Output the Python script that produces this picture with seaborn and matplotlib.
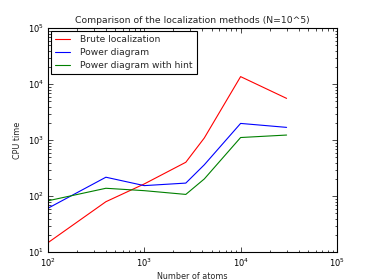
import pandas as pd
import matplotlib
matplotlib.use("Agg")
import matplotlib.pyplot as plt
import seaborn as sns

# values
atoms = [100, 400, 1000, 2700, 4200, 10000, 30000]
brute = [14.8, 80, 166, 405, 1100, 13700, 5600]
power = [61, 219, 155, 172, 365, 2000, 1700]
power_hint = [83, 139, 126, 108, 204, 1120, 1240]

methods = ["Brute localization", "Power diagram", "Power diagram with hint"]
colors = ["#ff0000", "#0000ff", "#008000"]

df = pd.DataFrame({
    "atoms": atoms * 3,
    "time": brute + power + power_hint,
    "method": [methods[0]] * len(atoms) + [methods[1]] * len(atoms) + [methods[2]] * len(atoms),
})

sns.set_style("white")
plt.rcParams["font.family"] = ["DejaVu Sans"]
plt.rcParams["font.size"] = 5.8

fig = plt.figure(figsize=(3.74, 2.8), dpi=100)
ax = fig.add_axes([0.128, 0.099, 0.773, 0.8])

sns.lineplot(data=df, x="atoms", y="time", hue="method", palette=colors,
             linewidth=0.8, ax=ax, estimator=None, sort=False)

ax.set_xscale("log")
ax.set_yscale("log")
ax.set_xlim(100, 100000)
ax.set_ylim(10, 100000)

for s in ax.spines.values():
    s.set_color("black")
    s.set_linewidth(0.8)
ax.tick_params(which="both", direction="in", top=True, right=True,
               bottom=True, left=True, colors="black", labelsize=6)
ax.tick_params(which="major", length=3.5, width=0.5, pad=3)
ax.tick_params(which="minor", length=1.8, width=0.5)

ax.set_xlabel("Number of atoms", fontsize=5.8, labelpad=2)
ax.set_ylabel("CPU time", fontsize=5.8, labelpad=4)
ax.set_title("Comparison of the localization methods (N=10^5)", fontsize=6.7, pad=4)

leg = ax.legend(loc="upper left", fontsize=6.6, frameon=True, fancybox=False,
                borderaxespad=0.3, handlelength=1.65, handletextpad=1.1,
                labelspacing=0.42, borderpad=0.45)
leg.get_frame().set_edgecolor("black")
leg.get_frame().set_linewidth(0.8)
leg.get_frame().set_alpha(1)

fig.savefig("out.png", dpi=100)
